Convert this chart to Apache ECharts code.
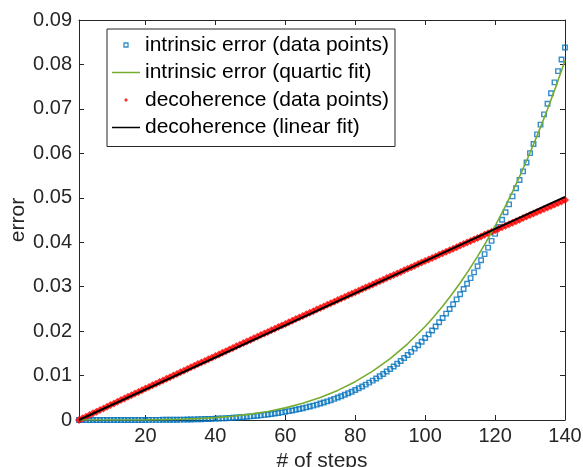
<!DOCTYPE html>
<html>
<head>
<meta charset="utf-8">
<script src="https://cdn.jsdelivr.net/npm/echarts@6/dist/echarts.min.js"></script>
<style>
html,body{margin:0;padding:0;background:#fff;}
#chart{width:583px;height:467px;}
</style>
</head>
<body>
<div id="chart"></div>
<script>
const steps = [1,2,3,4,5,6,7,8,9,10,11,12,13,14,15,16,17,18,19,20,21,22,23,24,25,26,27,28,29,30,
31,32,33,34,35,36,37,38,39,40,41,42,43,44,45,46,47,48,49,50,51,52,53,54,55,56,57,58,59,60,
61,62,63,64,65,66,67,68,69,70,71,72,73,74,75,76,77,78,79,80,81,82,83,84,85,86,87,88,89,90,
91,92,93,94,95,96,97,98,99,100,101,102,103,104,105,106,107,108,109,110,111,112,113,114,115,116,117,118,119,120,
121,122,123,124,125,126,127,128,129,130,131,132,133,134,135,136,137,138,139,140];

const intrinsicData = [0,0,0,0,0,0,0,0,0,0,0,0,0,0,0,0,0,0,0.00001,0.00001,
0.00002,0.00002,0.00002,0.00003,0.00004,0.00004,0.00005,0.00006,0.00007,0.00008,
0.00009,0.00011,0.00012,0.00014,0.00016,0.00018,0.00021,0.00023,0.00026,0.00030,
0.00033,0.00037,0.00041,0.00046,0.00051,0.00056,0.00061,0.00067,0.00074,0.00081,
0.00089,0.00097,0.00105,0.00115,0.00125,0.00135,0.00146,0.00158,0.00171,0.00185,
0.00199,0.00214,0.00230,0.00247,0.00265,0.00284,0.00303,0.00324,0.00346,0.00370,
0.00394,0.00419,0.00446,0.00475,0.00505,0.00535,0.00567,0.00601,0.00637,0.00675,
0.00713,0.00753,0.00796,0.00840,0.00887,0.00934,0.00983,0.01035,0.01090,0.01148,
0.01205,0.01265,0.01328,0.01394,0.01464,0.01533,0.01605,0.01681,0.01760,0.01844,
0.01926,0.02013,0.02103,0.02198,0.02296,0.02394,0.02497,0.02604,0.02715,0.02831,
0.02947,0.03067,0.03192,0.03322,0.03458,0.03593,0.03733,0.03879,0.04030,0.04188,
0.04344,0.04507,0.04676,0.04851,0.05032,0.05213,0.05400,0.05594,0.05795,0.06004,
0.06211,0.06426,0.06647,0.06877,0.07115,0.07352,0.07596,0.07849,0.08110,0.08380];

const quarticX = [1,5,10,15,20,25,30,35,40,45,50,55,60,65,70,75,80,85,90,95,100,102.5,105,107.5,110,112.5,115,117.5,
120,122.5,125,127.5,130,132.5,135,137.5,140];
const quarticY = [0,0,0.000002,0.00001,0.00003,0.00008,0.00017,0.00032,0.00054,0.00086,0.00132,0.00193,0.00273,0.00376,0.00505,
0.00666,0.00862,0.01099,0.01381,0.01715,0.02105,0.02324,0.02559,0.02811,0.03082,0.03372,0.03682,0.04012,
0.04365,0.04740,0.05139,0.05563,0.06012,0.06488,0.06992,0.07524,0.08087];

const decoherenceData = [0,0.000374,0.000748,0.001121,0.001495,0.001868,0.002240,0.002613,0.002985,0.003357,
0.003729,0.004100,0.004472,0.004843,0.005213,0.005584,0.005954,0.006324,0.006693,0.007063,
0.007432,0.007801,0.008169,0.008538,0.008906,0.009274,0.009641,0.010008,0.010375,0.010742,
0.011109,0.011475,0.011841,0.012207,0.012572,0.012937,0.013302,0.013667,0.014032,0.014396,
0.014760,0.015123,0.015487,0.015850,0.016213,0.016575,0.016938,0.017300,0.017662,0.018023,
0.018385,0.018746,0.019106,0.019467,0.019827,0.020187,0.020547,0.020906,0.021266,0.021625,
0.021983,0.022342,0.022700,0.023058,0.023416,0.023773,0.024130,0.024487,0.024844,0.025200,
0.025556,0.025912,0.026268,0.026623,0.026978,0.027333,0.027688,0.028042,0.028396,0.028750,
0.029103,0.029456,0.029809,0.030162,0.030515,0.030867,0.031219,0.031571,0.031922,0.032273,
0.032624,0.032975,0.033325,0.033675,0.034025,0.034375,0.034724,0.035073,0.035422,0.035771,
0.036119,0.036467,0.036815,0.037162,0.037510,0.037857,0.038203,0.038550,0.038896,0.039242,
0.039588,0.039933,0.040279,0.040624,0.040968,0.041313,0.041657,0.042001,0.042344,0.042688,
0.043031,0.043374,0.043716,0.044059,0.044401,0.044743,0.045084,0.045425,0.045766,0.046107,
0.046448,0.046788,0.047128,0.047468,0.047807,0.048146,0.048485,0.048824,0.049163,0.049501];

const linearX = [1, 140];
const linearY = [0, 0.0502];

const xTicks = [20, 40, 60, 80, 100, 120, 140];
const seriesNames = ['intrinsic error (data points)', 'intrinsic error (quartic fit)', 'decoherence (data points)', 'decoherence (linear fit)'];

const zip = (xs, ys) => xs.map((x, i) => [x, ys[i]]);

const axisColor = '#262626';
const fontFamily = '"Liberation Sans", Arial, Helvetica, sans-serif';

const chart = echarts.init(document.getElementById('chart'), null, {renderer: 'canvas'});

const baseX = {
  type: 'value', min: 1, max: 140,
  axisLine: {show: true, onZero: false, lineStyle: {color: axisColor, width: 1}},
  axisTick: {show: true, inside: true, length: 5, customValues: xTicks, lineStyle: {color: axisColor}},
  splitLine: {show: false}
};
const baseY = {
  type: 'value', min: 0, max: 0.09, interval: 0.01,
  axisLine: {show: true, onZero: false, lineStyle: {color: axisColor, width: 1}},
  axisTick: {show: true, inside: true, length: 5, lineStyle: {color: axisColor}},
  splitLine: {show: false}
};

const option = {
  animation: false,
  backgroundColor: '#fff',
  grid: {left: 79, top: 20, width: 486, height: 400, containLabel: false, outerBoundsMode: 'none'},
  xAxis: [
    Object.assign({}, baseX, {
      position: 'bottom',
      name: '# of steps', nameLocation: 'middle', nameGap: 27,
      nameTextStyle: {color: axisColor, fontSize: 21, fontFamily: fontFamily},
      axisLabel: {show: true, customValues: xTicks, margin: 6, color: axisColor, fontSize: 20, fontFamily: fontFamily}
    }),
    Object.assign({}, baseX, {position: 'top', axisLabel: {show: false}})
  ],
  yAxis: [
    Object.assign({}, baseY, {
      position: 'left',
      name: 'error', nameLocation: 'middle', nameGap: 50, nameMoveOverlap: false,
      nameTextStyle: {color: axisColor, fontSize: 21, fontFamily: fontFamily},
      axisLabel: {show: true, margin: 7, color: axisColor, fontSize: 20, fontFamily: fontFamily}
    }),
    Object.assign({}, baseY, {position: 'right', axisLabel: {show: false}})
  ],
  legend: {
    orient: 'vertical',
    left: 107, top: 29,
    padding: [5, 6, 8, 5],
    itemWidth: 28, itemHeight: 4, itemGap: 5.5,
    symbolKeepAspect: true,
    backgroundColor: '#fff',
    borderColor: axisColor, borderWidth: 1,
    textStyle: {color: '#000', fontSize: 21, lineHeight: 22, fontFamily: fontFamily},
    data: [
      {name: seriesNames[0], icon: 'path://M0,0h10v10h-10z', itemStyle: {color: 'rgba(0,0,0,0)', borderColor: '#0072BD', borderWidth: 1.3}},
      {name: seriesNames[1], icon: 'path://M0,0h28v1.5h-28z', itemStyle: {color: '#77AC30', borderWidth: 0}},
      {name: seriesNames[2], icon: 'path://M5,0L10,5L5,10L0,5z', itemStyle: {color: '#FF0000', borderWidth: 0}},
      {name: seriesNames[3], icon: 'path://M0,0h28v1.5h-28z', itemStyle: {color: '#000000', borderWidth: 0}}
    ]
  },
  series: [
    {
      name: seriesNames[0], type: 'scatter', xAxisIndex: 0, yAxisIndex: 0,
      symbol: 'rect', symbolSize: 4.5,
      itemStyle: {color: 'rgba(0,0,0,0)', borderColor: '#0072BD', borderWidth: 1.4},
      data: zip(steps, intrinsicData)
    },
    {
      name: seriesNames[1], type: 'line', xAxisIndex: 0, yAxisIndex: 0,
      symbol: 'none', smooth: false,
      lineStyle: {color: '#77AC30', width: 1.6},
      itemStyle: {color: '#77AC30'},
      data: zip(quarticX, quarticY)
    },
    {
      name: seriesNames[2], type: 'scatter', xAxisIndex: 0, yAxisIndex: 0,
      symbol: 'diamond', symbolSize: 8,
      itemStyle: {color: '#FF0000'},
      data: zip(steps, decoherenceData)
    },
    {
      name: seriesNames[3], type: 'line', xAxisIndex: 0, yAxisIndex: 0,
      symbol: 'none',
      lineStyle: {color: '#000000', width: 2},
      itemStyle: {color: '#000000'},
      data: zip(linearX, linearY)
    }
  ]
};
chart.setOption(option);
</script>
</body>
</html>
